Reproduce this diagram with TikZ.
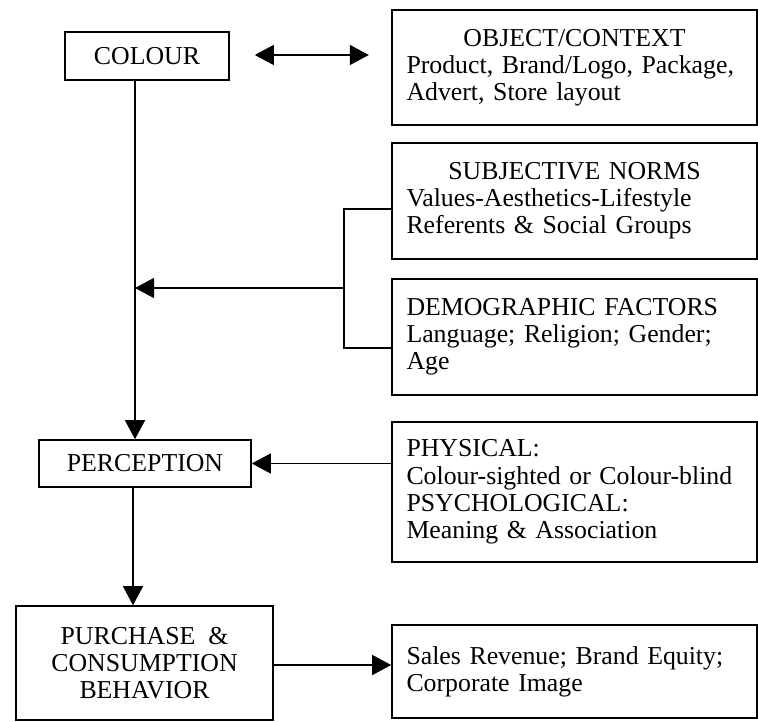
\documentclass[tikz,border=0pt]{standalone}
\usepackage{fontspec}
\setmainfont{Liberation Serif}
\usetikzlibrary{arrows.meta}

\tikzset{
  box/.style={draw,line width=0.8pt,inner sep=0pt,font=\fontsize{12.9}{13.6}\selectfont,align=center},
  sidebox/.style={box,minimum width=182.5pt,text width=168pt,align=left},
  tip/.style={line width=0.7pt,-{Triangle[length=9.5pt,width=10pt]}},
  dbltip/.style={line width=0.7pt,{Triangle[length=9.5pt,width=10pt]}-{Triangle[length=9.5pt,width=10pt]}},
  plain/.style={line width=0.7pt}
}

\begin{document}
\begin{tikzpicture}[x=0.5pt,y=-0.5pt]
\useasboundingbox (0,0) rectangle (758,721);

% left column
\node [box,minimum width=82pt,minimum height=24pt] (colour) at (147,56) {COLOUR};
\node [box,minimum width=106pt,minimum height=23.5pt] (percep) at (145,463.5) {PERCEPTION};
\node [box,minimum width=128.5pt,minimum height=57pt] (purch) at (144.5,663) {PURCHASE \ \&\\CONSUMPTION\\BEHAVIOR};

% right column
\node [sidebox,minimum height=57.5pt] (object) at (574.5,67.5)
  {\hfill OBJECT/CONTEXT\hfill\null\\Product, Brand/Logo, Package,\\Advert, Store layout};
\node [sidebox,minimum height=58pt] (subj) at (574.5,201)
  {\hfill SUBJECTIVE NORMS\hfill\null\\Values-Aesthetics-Lifestyle\\Referents \& Social Groups};
\node [sidebox,minimum height=58pt] (demo) at (574.5,337)
  {DEMOGRAPHIC FACTORS\\Language; Religion; Gender;\\Age};
\node [sidebox,minimum height=70pt] (phys) at (574.5,492)
  {PHYSICAL:\\Colour-sighted or Colour-blind\\PSYCHOLOGICAL:\\Meaning \& Association};
\node [sidebox,minimum height=46.5pt] (sales) at (574.5,671.5)
  {Sales Revenue; Brand Equity;\\Corporate Image};

% connectors
\coordinate (vline) at ([xshift=-6pt]colour.south);
\coordinate (brk) at (344,288);
\draw [dbltip] ([xshift=12.5pt,yshift=0.5pt]colour.east) -- ++(114,0);
\draw [tip] (vline) -- (vline |- percep.north);
\draw [tip] ([xshift=-6pt]percep.south) -- ([xshift=-6pt]percep.south |- purch.north);

\draw [plain] ([yshift=-4pt]subj.west) -| (brk) |- ([yshift=-5.5pt]demo.west);
\draw [tip] (brk) -- (brk -| vline);

\draw [tip] (percep.east -| phys.west) -- (percep.east);
\draw [tip] ([yshift=-1pt]purch.east) -- ([yshift=-1pt]purch.east -| sales.west);
\end{tikzpicture}
\end{document}
